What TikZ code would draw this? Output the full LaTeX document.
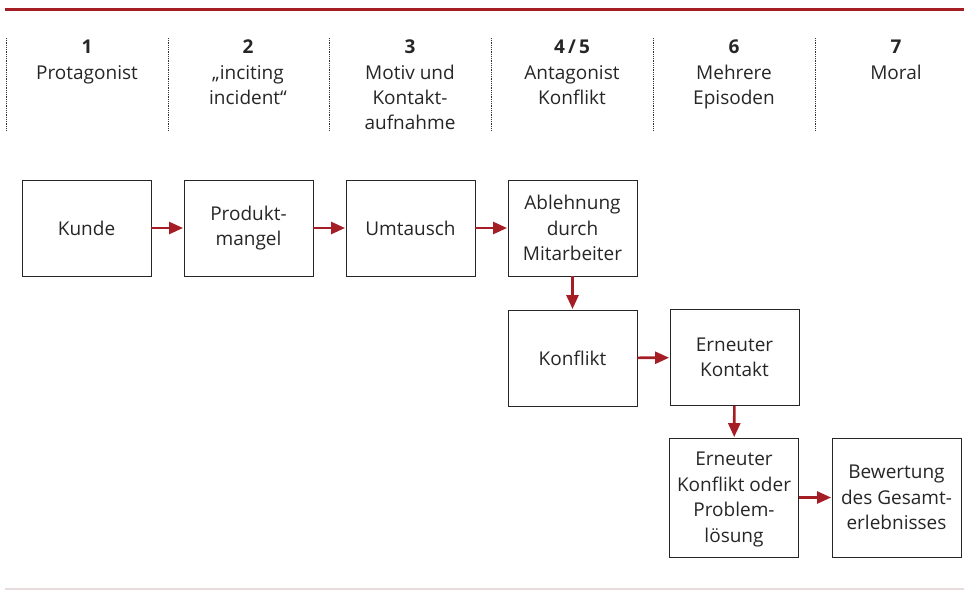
\documentclass[tikz,border=0pt]{standalone}
\usepackage{fontspec}
\setmainfont{Open Sans}
\usetikzlibrary{arrows.meta}
\definecolor{dred}{HTML}{A51E25}
\definecolor{lgray}{HTML}{E6DCDC}
\begin{document}
\begin{tikzpicture}[x=1pt,y=-1pt,
  box/.style={draw=black!85,line width=0.9pt,minimum width=129pt,minimum height=96pt,align=center,inner sep=2pt,font=\fontsize{19}{25.5}\selectfont,text=black!85},
  hdr/.style={anchor=north,align=center,font=\fontsize{19}{25.3}\selectfont,text=black!85,inner sep=0pt},
  sep/.style={densely dotted,line width=0.8pt,black!80},
  flow/.style={draw=dred,line width=2.6pt,-{Triangle[length=14pt,width=12pt]},shorten >=0.5pt}]
\useasboundingbox (0,0) rectangle (964,590);
\draw[dred,line width=3pt] (5,9) -- (964,9);
\draw[lgray,line width=1.2pt] (5,589) -- (964,589);
\foreach \x in {6,168,329,491,653,815}{\draw[sep] (\x,38) -- (\x,130);}
\node[hdr] (h1) at (87,40) {\textbf{1}\\Protagonist};
\node[hdr] (h2) at (248,40) {\textbf{2}\\„inciting\\incident“};
\node[hdr] (h3) at (410,40) {\textbf{3}\\Motiv und\\Kontakt-\\aufnahme};
\node[hdr] (h4) at (572,40) {\textbf{4\,/\,5}\\Antagonist\\Konflikt};
\node[hdr] (h6) at (734,40) {\textbf{6}\\Mehrere\\Episoden};
\node[hdr] (h7) at (896,40) {\textbf{7}\\Moral};
\node[box] (kunde) at (86.5,228) {Kunde};
\node[box] (prod) at (248.5,228) {Produkt-\\mangel};
\node[box] (umt) at (410.5,228) {Umtausch};
\node[box] (abl) at (572.5,228) {Ablehnung\\durch\\Mitarbeiter};
\node[box] (konf) at (572.5,358) {Konflikt};
\node[box] (ern) at (734.5,357.5) {Erneuter\\Kontakt};
\node[box,minimum height=119pt] (ernk) at (734,497.5) {\\[-8pt]Erneuter\\Konflikt oder\\Problem-\\lösung};
\node[box,minimum height=119pt] (bew) at (896.5,497.5) {Bewertung\\des Gesamt-\\erlebnisses};
\draw[flow] (kunde) -- (prod);
\draw[flow] (prod) -- (umt);
\draw[flow] (umt) -- (abl);
\draw[flow] (abl) -- (konf);
\draw[flow] (konf) -- (ern);
\draw[flow] (ern) -- (ernk);
\draw[flow] (ernk) -- (bew);
\end{tikzpicture}
\end{document}
